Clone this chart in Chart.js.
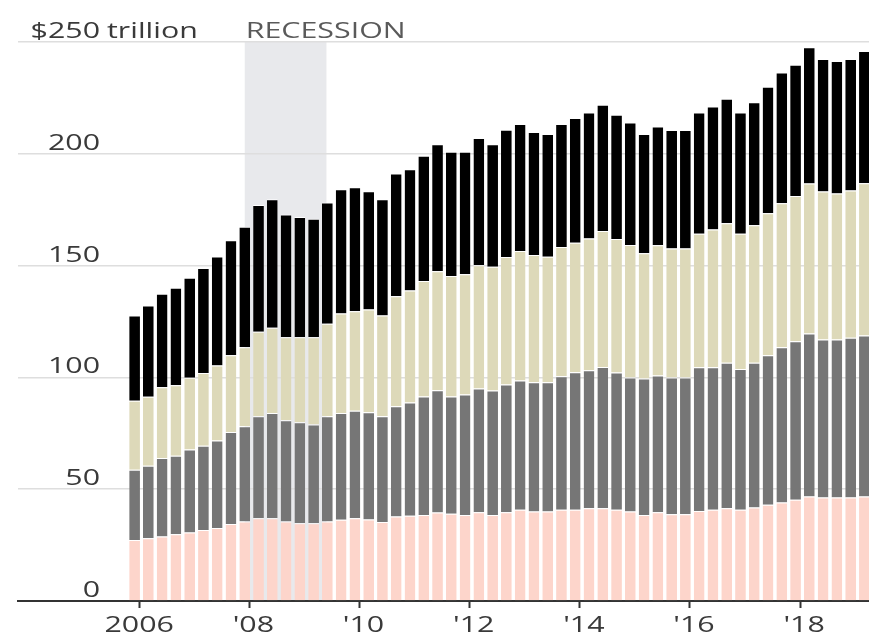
<!DOCTYPE html>
<html>
<head>
<meta charset="utf-8">
<script src="https://cdn.jsdelivr.net/npm/chart.js@4.4.1/dist/chart.umd.min.js"></script>
<style>
  html, body { margin: 0; padding: 0; background: #fff; }
  #wrap { width: 869px; height: 638px; }
</style>
</head>
<body>
<div id="wrap"><canvas id="debt" width="869" height="638"></canvas></div>
<script>
// ── data (trillions of dollars, quarterly) ──────────────────────────
const quarters = [
    '2005Q4',
    '2006Q1', '2006Q2', '2006Q3', '2006Q4', '2007Q1', '2007Q2', '2007Q3', '2007Q4',
    '2008Q1', '2008Q2', '2008Q3', '2008Q4', '2009Q1', '2009Q2', '2009Q3', '2009Q4',
    '2010Q1', '2010Q2', '2010Q3', '2010Q4', '2011Q1', '2011Q2', '2011Q3', '2011Q4',
    '2012Q1', '2012Q2', '2012Q3', '2012Q4', '2013Q1', '2013Q2', '2013Q3', '2013Q4',
    '2014Q1', '2014Q2', '2014Q3', '2014Q4', '2015Q1', '2015Q2', '2015Q3', '2015Q4',
    '2016Q1', '2016Q2', '2016Q3', '2016Q4', '2017Q1', '2017Q2', '2017Q3', '2017Q4',
    '2018Q1', '2018Q2', '2018Q3', '2018Q4', '2019Q1',
];

const households = [
    27.3, 28.1, 28.8, 29.9, 30.6, 31.8, 32.6, 34.4, 35.5, 37.0, 37.0, 35.5, 34.8, 34.8,
    35.5, 36.3, 37.0, 36.5, 35.3, 37.8, 38.1, 38.5, 39.6, 39.0, 38.5, 39.7, 38.5, 39.7,
    40.8, 40.0, 40.0, 40.8, 40.8, 41.5, 41.5, 40.8, 40.0, 38.5, 39.7, 38.8, 38.8, 40.3,
    40.8, 41.5, 40.8, 41.8, 43.0, 44.0, 45.3, 46.7, 46.3, 46.3, 46.3, 46.7,
];
const corporates = [
    31.4, 32.4, 35.1, 35.1, 37.1, 37.6, 39.2, 41.2, 42.6, 45.6, 47.1, 45.3, 45.1, 44.1,
    47.1, 47.8, 48.1, 47.9, 47.3, 49.3, 50.7, 53.0, 54.6, 52.5, 53.8, 55.3, 55.6, 57.1,
    57.8, 57.8, 57.8, 59.7, 61.5, 61.7, 63.2, 61.4, 60.0, 61.0, 61.2, 61.2, 61.2, 64.2,
    63.7, 65.0, 63.0, 64.7, 66.9, 69.5, 70.9, 72.9, 70.6, 70.6, 71.4, 72.0,
];
const government = [
    30.9, 30.8, 31.7, 31.5, 32.1, 32.6, 33.5, 34.3, 35.4, 37.8, 38.1, 37.2, 38.1, 39.1,
    41.4, 44.5, 44.5, 46.0, 45.1, 49.2, 50.1, 51.6, 53.3, 53.8, 53.8, 55.2, 55.4, 57.0,
    57.9, 56.9, 56.2, 57.8, 57.9, 58.9, 60.8, 59.7, 59.2, 56.0, 58.2, 57.6, 57.6, 59.8,
    61.7, 62.4, 60.5, 61.5, 63.5, 64.4, 64.9, 67.1, 66.2, 65.4, 65.9, 68.1,
];
const financial = [
    38.1, 40.9, 41.8, 43.6, 44.8, 46.9, 48.8, 51.4, 53.9, 56.7, 57.5, 54.8, 53.7, 53.0,
    54.2, 55.5, 55.4, 52.9, 52.0, 54.9, 54.2, 56.0, 56.8, 55.6, 54.8, 56.9, 54.8, 56.9,
    56.8, 55.1, 54.8, 55.0, 55.8, 56.4, 56.4, 55.6, 54.8, 53.3, 53.1, 53.0, 53.0, 54.2,
    55.0, 55.7, 54.2, 55.0, 56.6, 58.5, 58.7, 60.9, 59.3, 59.2, 58.8, 59.2,
];

const tickYears = [2006, 2008, 2010, 2012, 2014, 2016, 2018];
const tickLabels = ['2006', "'08", "'10", "'12", "'14", "'16", "'18"];
const yTicks = [0, 50, 100, 150, 200, 250];
const recession = [2007 + 11 / 12, 2009.4];   // Dec 2007 – mid 2009

// ── styling ─────────────────────────────────────────────────────────
const Colors = {
    households: '#fdd5cb',
    corporates: '#767676',
    government: '#ddd9b9',
    financial: '#000000',
    recession: '#e8e9ec',
    grid: '#dedede',
    axis: '#333333',
    text: '#3a3a3a',
    recText: '#5a5a5a',
};
const FONT = '22px "Open Sans", sans-serif';
const STRETCH = 1.38;   // labels in the original are drawn wide

// quarter -> decimal year (last month of the quarter)
function quarterX(q) {
    const year = parseInt(q.slice(0, 4), 10);
    const n = parseInt(q.slice(5), 10);
    return year + (3 * n - 1) / 12;
}

function points(values) {
    return quarters.map((q, i) => ({ x: quarterX(q), y: values[i] }));
}

function wideText(ctx, text, x, y, align, color) {
    ctx.save();
    ctx.font = FONT;
    ctx.fillStyle = color;
    ctx.textAlign = align;
    ctx.textBaseline = 'alphabetic';
    ctx.translate(x, y);
    ctx.scale(STRETCH, 1);
    ctx.fillText(text, 0, 0);
    ctx.restore();
}

const recessionShade = {
    id: 'recessionShade',
    beforeDraw(chart) {
        const { ctx, chartArea, scales } = chart;
        const x0 = scales.x.getPixelForValue(recession[0]);
        const x1 = scales.x.getPixelForValue(recession[1]);
        ctx.save();
        ctx.fillStyle = Colors.recession;
        ctx.fillRect(x0, chartArea.top, x1 - x0, chartArea.bottom - chartArea.top);
        ctx.restore();
    },
};

const labels = {
    id: 'labels',
    afterDraw(chart) {
        const { ctx, scales } = chart;
        const y = scales.y, x = scales.x;

        // value labels sit just above their gridline
        y.ticks.forEach(t => {
            const py = y.getPixelForValue(t.value) - 4;
            const txt = t.value === 250 ? '$250' : String(t.value);
            wideText(ctx, txt, 100, py, 'right', Colors.text);
            if (t.value === 250) wideText(ctx, 'trillion', 107, py, 'left', Colors.text);
        });

        const top = y.getPixelForValue(250) - 4;
        wideText(ctx, 'RECESSION', x.getPixelForValue(recession[0]) + 1, top, 'left', Colors.recText);

        x.ticks.forEach((t, i) => {
            const px = x.getPixelForValue(t.value) + (i ? 4 : 0);
            wideText(ctx, tickLabels[i], px, 632, 'center', Colors.text);
        });
    },
};

const barStyle = {
    borderColor: '#ffffff',
    borderWidth: { top: 1, left: 0, right: 0, bottom: 0 },
    borderSkipped: false,
    barPercentage: 0.78,
    categoryPercentage: 1,
};

new Chart(document.getElementById('debt'), {
    type: 'bar',
    data: {
        datasets: [
            { label: 'Households', data: points(households), backgroundColor: Colors.households, ...barStyle },
            { label: 'Nonfinancial corporates', data: points(corporates), backgroundColor: Colors.corporates, ...barStyle },
            { label: 'Government', data: points(government), backgroundColor: Colors.government, ...barStyle },
            { label: 'Financial sector', data: points(financial), backgroundColor: Colors.financial, ...barStyle },
        ],
    },
    options: {
        responsive: false,
        animation: false,
        devicePixelRatio: 1,
        layout: { padding: { left: 18, right: 0, top: 42, bottom: 30 } },
        plugins: {
            legend: { display: false },
            tooltip: { enabled: false },
        },
        scales: {
            x: {
                type: 'linear',
                stacked: true,
                offset: false,
                min: 2003.8,
                max: 2019.25,
                afterBuildTicks: scale => {
                    scale.ticks = tickYears.map(v => ({ value: v }));
                },
                ticks: { display: false },
                grid: {
                    offset: false,
                    drawOnChartArea: false,
                    drawTicks: true,
                    tickLength: 7,
                    tickWidth: 2,
                    tickColor: Colors.axis,
                },
                border: { display: true, color: Colors.axis, width: 2 },
            },
            y: {
                stacked: true,
                min: 0,
                max: 250,
                afterBuildTicks: scale => {
                    scale.ticks = yTicks.map(v => ({ value: v }));
                },
                ticks: { display: false },
                grid: { color: Colors.grid, lineWidth: 1.5, drawTicks: false },
                border: { display: false },
            },
        },
    },
    plugins: [recessionShade, labels],
});
</script>
</body>
</html>
